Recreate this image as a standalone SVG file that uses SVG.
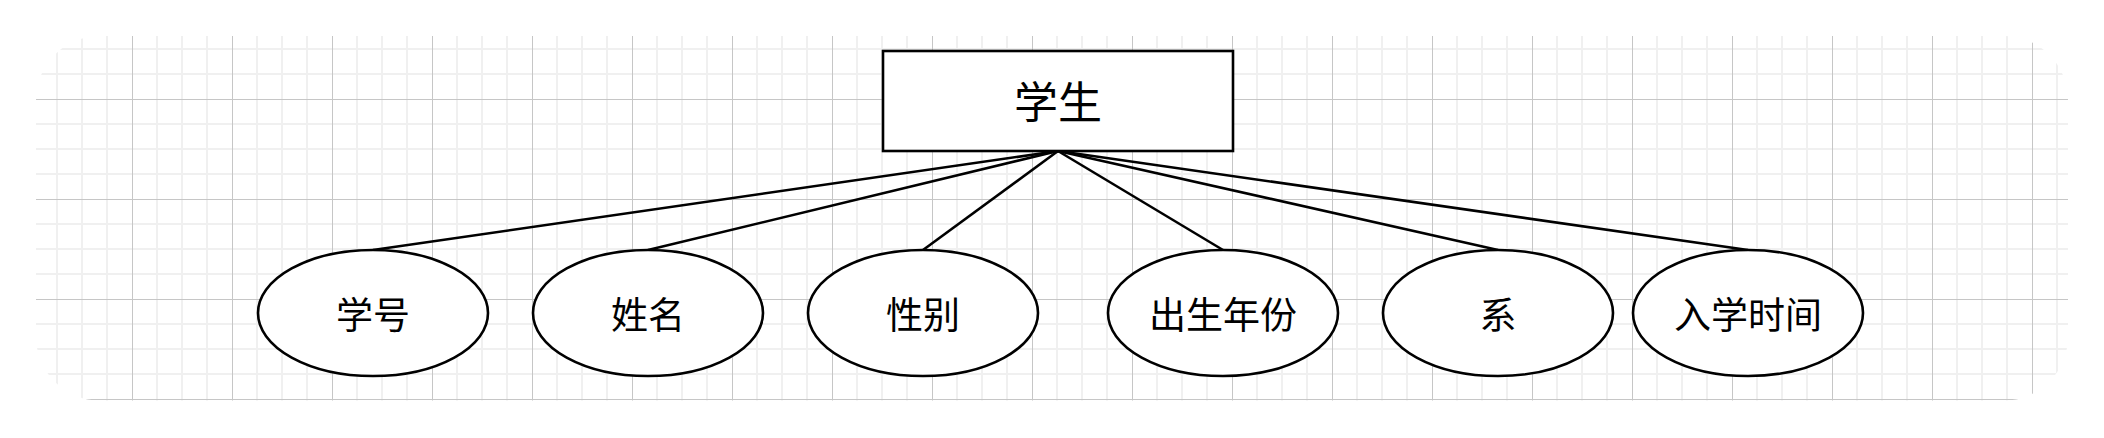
<svg xmlns="http://www.w3.org/2000/svg" width="2104" height="438" viewBox="0 0 2104 438">
  <style>
    .node { fill: #ffffff; stroke: #000000; stroke-width: 2.6; }
    .edge { stroke: #000000; stroke-width: 2.6; fill: none; }
    .lbl { font-family: "Noto Sans CJK SC", "Noto Sans", sans-serif; font-weight: 400; fill: #000000; text-anchor: middle; dominant-baseline: central; }
    .title { font-size: 44px; }
    .attr { font-size: 37px; }
  </style>
  <defs>
    <pattern id="grid" patternUnits="userSpaceOnUse" x="32" y="-1" width="100" height="100">
      <path d="M25 0V100M50 0V100M75 0V100M0 25H100M0 50H100M0 75H100" stroke="#f0f0f0" stroke-width="2" fill="none"/>
      <path d="M0.5 0V100M0 0.5H100" stroke="#c6c6c6" stroke-width="1" fill="none"/>
    </pattern>
  </defs>
  <rect width="2104" height="438" fill="#ffffff"/>
  <rect id="canvas-grid" x="36" y="36" width="2032" height="364.5" rx="64" ry="64" fill="url(#grid)"/>

  <g id="connectors">
    <line class="edge" x1="1058" y1="151" x2="373" y2="250"/>
    <line class="edge" x1="1058" y1="151" x2="648" y2="250"/>
    <line class="edge" x1="1058" y1="151" x2="923" y2="250"/>
    <line class="edge" x1="1058" y1="151" x2="1223" y2="250"/>
    <line class="edge" x1="1058" y1="151" x2="1498" y2="250"/>
    <line class="edge" x1="1058" y1="151" x2="1748" y2="250"/>
  </g>

  <g id="student">
    <rect class="node" x="883" y="51" width="350" height="100"/>
    <text class="lbl title" x="1058" y="100">学生</text>
  </g>
  <g id="attr-xuehao">
    <ellipse class="node" cx="373" cy="313" rx="115" ry="63"/>
    <text class="lbl attr" x="373" y="313">学号</text>
  </g>
  <g id="attr-xingming">
    <ellipse class="node" cx="648" cy="313" rx="115" ry="63"/>
    <text class="lbl attr" x="648" y="313">姓名</text>
  </g>
  <g id="attr-xingbie">
    <ellipse class="node" cx="923" cy="313" rx="115" ry="63"/>
    <text class="lbl attr" x="923" y="313">性别</text>
  </g>
  <g id="attr-chusheng">
    <ellipse class="node" cx="1223" cy="313" rx="115" ry="63"/>
    <text class="lbl attr" x="1223" y="313">出生年份</text>
  </g>
  <g id="attr-xi">
    <ellipse class="node" cx="1498" cy="313" rx="115" ry="63"/>
    <text class="lbl attr" x="1498" y="313">系</text>
  </g>
  <g id="attr-ruxue">
    <ellipse class="node" cx="1748" cy="313" rx="115" ry="63"/>
    <text class="lbl attr" x="1748" y="313">入学时间</text>
  </g>
</svg>
